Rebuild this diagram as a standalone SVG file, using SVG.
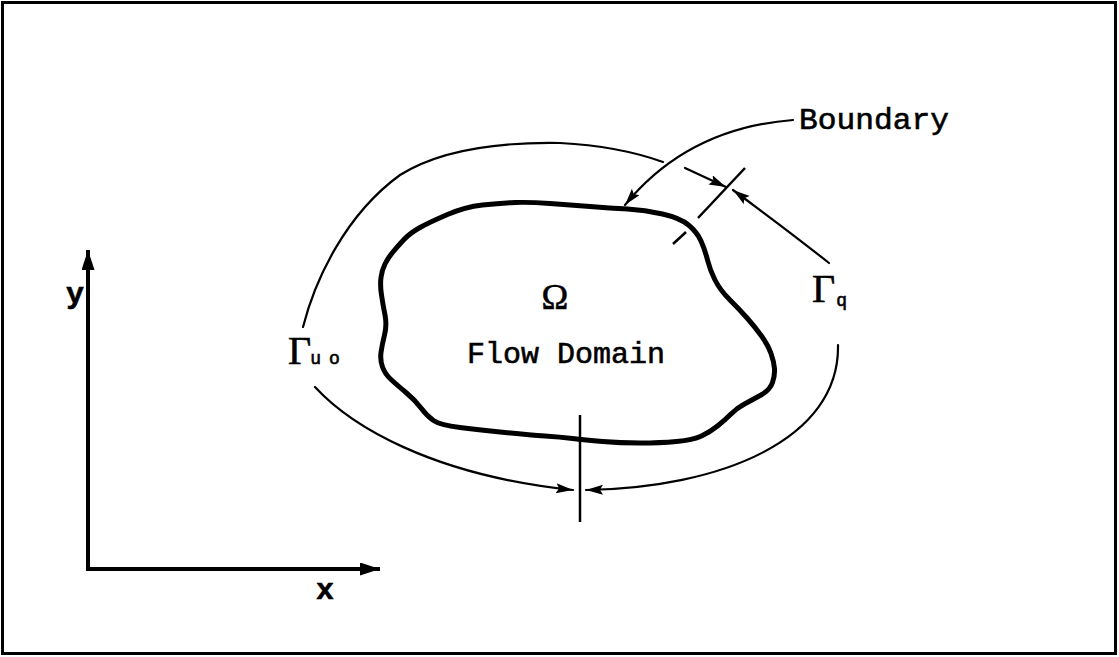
<svg xmlns="http://www.w3.org/2000/svg" width="1119" height="657" viewBox="0 0 1119 657">
<style>
.frame{fill:none;stroke:#000;stroke-width:3}
.axis{fill:none;stroke:#000;stroke-width:4}
.arc{fill:none;stroke:#000;stroke-width:2.2;stroke-linecap:round}
.blob{fill:none;stroke:#000;stroke-width:5;stroke-linejoin:round;stroke-linecap:round}
.tick{fill:none;stroke:#000;stroke-width:2.5}
.mono{font-family:"Liberation Mono","DejaVu Sans Mono",monospace;fill:#000;stroke:#000;stroke-width:0.6}
.serif{font-family:"Liberation Serif","DejaVu Serif",serif;fill:#000;stroke:#000;stroke-width:0.6}
</style>
<defs>
<marker id="ah" markerUnits="userSpaceOnUse" markerWidth="20" markerHeight="12" refX="17" refY="5" orient="auto">
<path d="M0,0 L17,5 L0,10 L3,5 Z" fill="#000"/>
</marker>
<marker id="axh" markerUnits="userSpaceOnUse" markerWidth="22" markerHeight="14" refX="20" refY="6.5" orient="auto">
<path d="M0,0 L20,6.5 L0,13 Z" fill="#000"/>
</marker>
</defs>
<rect class="frame" x="2.5" y="2.5" width="1113" height="651"/>
<g id="axes">
<line class="axis" x1="88" y1="569" x2="88" y2="250" marker-end="url(#axh)"/>
<line class="axis" x1="86" y1="569" x2="380" y2="569" marker-end="url(#axh)"/>
<text class="mono" x="66" y="303" font-size="30" font-weight="bold">y</text>
<text class="mono" x="316" y="599" font-size="30" font-weight="bold">x</text>
</g>
<g id="domain">
<path class="blob" d="M392.5,252.5 Q397,247 403.5,240 Q410,233 420,227.5 Q430,222 447.5,214.5 Q465,207 482.5,205 Q500,203 515,202.5 Q530,202 550,203.5 Q570,205 590,206.5 Q610,208 627.5,209 Q645,210 662.5,214 Q680,218 688.5,225 Q697,232 701,241 Q705,250 707.5,260 Q710,270 715,280 Q720,290 730,300 Q740,310 747.5,318.5 Q755,327 761.5,336 Q768,345 771,353.5 Q774,362 774.5,368.5 Q775,375 772.5,382.5 Q770,390 761,395 Q752,400 744.5,404 Q737,408 731,414 Q725,420 717.5,426 Q710,432 701.5,436 Q693,440 676.5,441.5 Q660,443 640,443 Q620,443 602.5,441.5 Q585,440 572.5,438.5 Q560,437 545,436 Q530,435 505,432.5 Q480,430 460,427.5 Q440,425 433.5,420.5 Q427,416 421,408 Q415,400 406,392.5 Q397,385 391,379.5 Q385,374 382.5,367 Q380,360 381,352.5 Q382,345 384.5,335 Q387,325 385,315 Q383,305 381.5,295 Q380,285 381,277.5 Q382,270 385,264 Q388,258 392.5,252.5 Z"/>
<text class="serif" x="555" y="309" font-size="36" text-anchor="middle">Ω</text>
<text class="mono" x="467" y="363" font-size="30">Flow Domain</text>
</g>
<g id="boundary-label">
<text class="mono" x="799" y="129" font-size="30" textLength="150" lengthAdjust="spacingAndGlyphs">Boundary</text>
</g>
<g id="gamma-u0">
<text class="serif" x="288" y="364" font-size="40">Γ<tspan class="mono" font-size="18" dx="-1">u</tspan><tspan class="mono" font-size="18" dx="8">o</tspan></text>
</g>
<g id="gamma-q">
<text class="serif" x="812" y="302" font-size="40">Γ<tspan class="mono" font-size="18" dx="1" dy="4">q</tspan></text>
</g>
<g id="connectors">
<path class="arc" d="M303,327 C315,280 345,215 400,175 C440,150 500,142 560,143 C600,145 635,152 663,162"/>
<path class="arc" d="M685,168 L726,187" marker-end="url(#ah)"/>
<path class="arc" d="M829,263 Q790,232 733,190" marker-end="url(#ah)"/>
<path class="arc" d="M793,120 C730,125 670,150 625,205" marker-end="url(#ah)"/>
<path class="arc" d="M315,387 C350,425 430,475 573,490" marker-end="url(#ah)"/>
<path class="arc" d="M838,345 C840,440 720,488 586,490" marker-end="url(#ah)"/>
<line class="tick" x1="580" y1="415" x2="580" y2="522"/>
<line class="tick" x1="745" y1="168" x2="698" y2="218"/>
<line class="tick" x1="686" y1="232" x2="673" y2="244"/>
</g>
</svg>
